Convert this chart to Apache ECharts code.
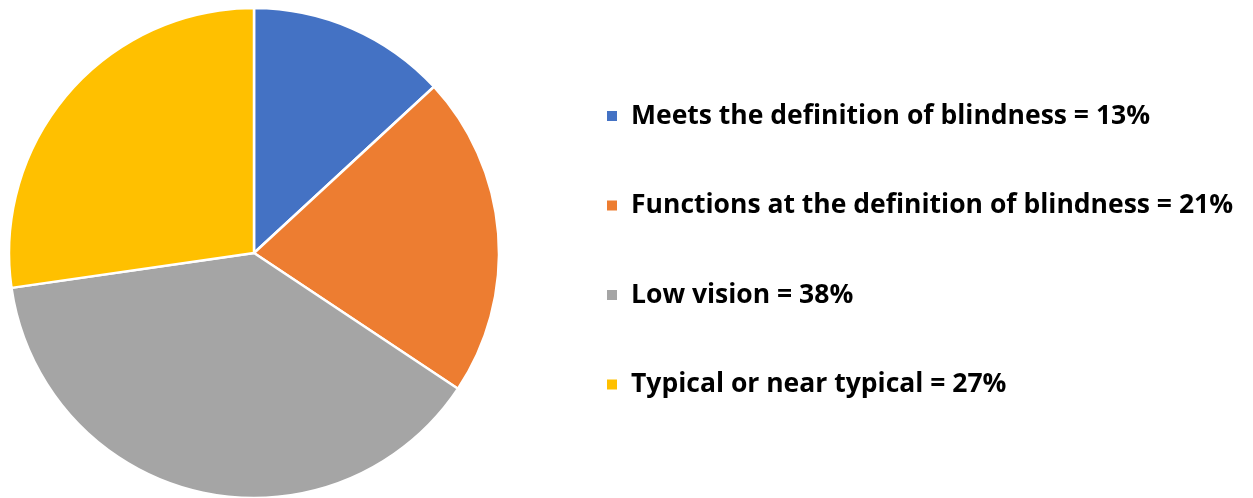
<!DOCTYPE html>
<html><head><meta charset="utf-8">
<script src="https://cdn.jsdelivr.net/npm/echarts@6/dist/echarts.min.js"></script>
<style>html,body{margin:0;padding:0;background:#fff}#c{width:1253px;height:498px}</style>
</head><body><div id="c"></div>
<script>
const categories = ["Meets the definition of blindness", "Functions at the definition of blindness", "Low vision", "Typical or near typical"];
const values = [13, 21, 38, 27];
const colors = ["#4472C4", "#ED7D31", "#A5A5A5", "#FFC000"];
const labels = categories.map((c, i) => c + " = " + values[i] + "%");

const chart = echarts.init(document.getElementById('c'), null, {renderer: 'canvas'});
chart.setOption({
  animation: false,
  color: colors,
  legend: {
    orient: 'vertical',
    left: 600,
    top: 96,
    icon: 'rect',
    itemWidth: 12,
    itemHeight: 12,
    itemGap: 59.5,
    formatter: name => labels[categories.indexOf(name)],
    textStyle: {fontFamily: 'Open Sans', fontWeight: 'bold', fontSize: 26.5, lineHeight: 30, color: '#000', padding: [0,0,0,8]},
    data: categories
  },
  series: [{
    type: 'pie',
    center: [254, 253],
    radius: [0, 245],
    startAngle: 90,
    clockwise: true,
    label: {show: false},
    labelLine: {show: false},
    itemStyle: {borderColor: '#fff', borderWidth: 2.5},
    data: categories.map((c, i) => ({name: c, value: values[i]}))
  }]
});
</script></body></html>
